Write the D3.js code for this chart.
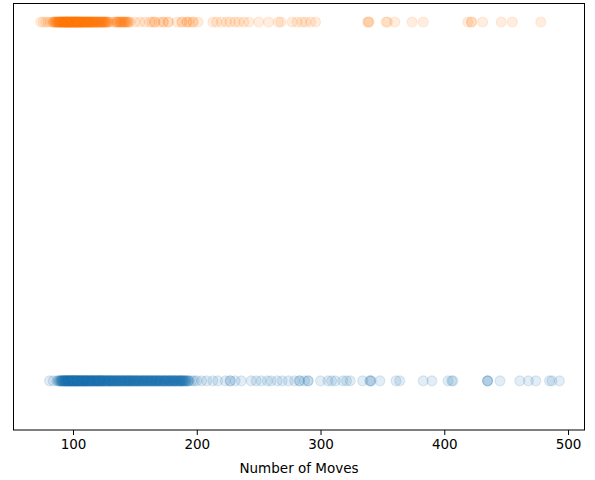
<!DOCTYPE html>
<html>
<head>
<meta charset="utf-8">
<script src="https://cdn.jsdelivr.net/npm/d3@7"></script>
<style>
  body { margin: 0; background: #fff; }
  svg { display: block; }
</style>
</head>
<body>
<div id="chart"></div>
<script>
// Number of moves per game, with how many games ended at that move count
// orange row (top)
const orangeMoves = [74, 76, 78, 80, 82, 84, 85,
  86, 87, 88, 89, 90, 91, 92, 93, 94, 95, 96, 97, 98, 99,
  100, 101, 102, 103, 104, 105, 106, 107, 108, 109, 110, 111, 112, 113, 114, 115,
  116, 117, 118, 119, 120, 121, 122, 123, 124, 125, 126, 127, 128,
  129, 131, 133, 135, 136, 137, 138, 139, 140, 141, 142, 143, 144, 145, 146,
  150, 154, 158, 162, 164, 166, 170, 173, 177, 184, 188, 192, 194, 197, 201,
  213, 216, 220, 224, 227, 231, 234, 238, 242, 250, 258, 266, 268, 277, 281,
  285, 288, 292, 296, 338, 339, 353, 354, 360, 374, 383, 419, 422, 431, 446, 455, 478];
const orangeCounts = [1, 1, 1, 1, 1, 2, 2,
  2, 3, 3, 3, 4, 4, 3, 4, 4, 5, 4, 4, 5, 4,
  5, 4, 4, 5, 4, 4, 4, 3, 4, 3, 4, 3, 3, 4, 3, 3,
  3, 3, 3, 2, 3, 3, 2, 3, 2, 3, 2, 2, 2,
  1, 1, 1, 2, 2, 1, 2, 2, 1, 2, 2, 1, 2, 1, 1,
  1, 1, 1, 1, 1, 2, 1, 2, 2, 1, 2, 2, 1, 2, 1,
  1, 1, 1, 1, 1, 1, 1, 1, 1, 1, 1, 1, 1, 1, 1,
  1, 1, 1, 1, 1, 2, 1, 1, 1, 1, 1, 1, 2, 1, 1, 1, 1];

// blue row (bottom)
const blueMoves = [81, 84, 87, 88, 89,
  90, 91, 92, 93, 94, 95, 96, 97, 98, 99,
  100, 101, 102, 103, 104, 105, 106, 107, 108, 109,
  110, 111, 112, 113, 114, 115, 116, 117, 118, 119,
  120, 121, 122, 123, 124, 125, 126, 127, 128, 129,
  130, 131, 132, 133, 134, 135, 136, 137, 138, 139,
  140, 141, 142, 143, 144, 145, 146, 147, 148, 149,
  150, 151, 152, 153, 154, 155, 156, 157, 158, 159,
  160, 161, 162, 163, 164, 165, 166, 167, 168, 169,
  170, 171, 172, 173, 174, 175, 176, 177, 178, 179,
  180, 181, 182, 183, 184, 185, 186, 187, 188, 189,
  190, 191, 192, 193, 194,
  196, 198, 200, 204, 208, 213, 217, 223, 227, 231, 236, 244, 248, 252, 257,
  260, 265, 269, 274, 279, 283, 287, 290, 300, 306, 309, 312, 318, 321, 324,
  334, 340, 341, 348, 361, 364, 383, 390, 403, 406, 407, 435, 445, 461, 468,
  474, 485, 487, 493];
const blueCounts = [1, 1, 1, 1, 2,
  2, 3, 3, 3, 4, 3, 4, 4, 3, 4,
  4, 4, 3, 4, 4, 3, 4, 3, 4, 3,
  4, 3, 3, 4, 3, 3, 4, 3, 3, 3,
  3, 4, 3, 3, 3, 3, 3, 2, 3, 3,
  3, 3, 2, 3, 3, 2, 3, 3, 2, 3,
  3, 2, 3, 2, 3, 3, 2, 3, 2, 3,
  2, 3, 2, 3, 2, 2, 3, 2, 3, 2,
  2, 3, 2, 2, 3, 2, 2, 3, 2, 2,
  3, 2, 2, 2, 3, 2, 2, 2, 3, 2,
  2, 2, 3, 2, 2, 2, 2, 3, 2, 2,
  2, 2, 1, 2, 1,
  1, 1, 1, 1, 1, 1, 1, 1, 2, 1, 1, 1, 1, 1, 1,
  1, 1, 1, 1, 1, 2, 1, 2, 1, 1, 1, 1, 1, 1, 1,
  1, 2, 1, 1, 1, 1, 1, 1, 1, 1, 1, 3, 1, 1, 1,
  1, 1, 1, 1];

const xTicks = [100, 200, 300, 400, 500];
const xLabel = "Number of Moves";

// expand (moves, count) into one point per game
function expand(moves, counts, row) {
  const pts = [];
  moves.forEach((m, i) => {
    for (let k = 0; k < counts[i]; k++) pts.push({ moves: m, row: row });
  });
  return pts;
}

const width = 595, height = 480;
const margin = { left: 13, right: 10, top: 3, bottom: 50 };

const svg = d3.select("#chart").append("svg")
  .attr("width", width)
  .attr("height", height);

const x = d3.scaleLinear()
  .domain([51.5, 513.7])
  .range([margin.left, width - margin.right]);

const y = d3.scaleLinear()
  .domain([-0.137, 1.053])
  .range([height - margin.bottom, margin.top]);

// points: blue first, then orange
const series = [
  { pts: expand(blueMoves, blueCounts, 0), color: "#1f77b4" },
  { pts: expand(orangeMoves, orangeCounts, 1), color: "#ff7f0e" }
];

series.forEach(s => {
  svg.append("g").selectAll("circle")
    .data(s.pts)
    .enter()
    .append("circle")
    .attr("cx", d => x(d.moves))
    .attr("cy", d => y(d.row))
    .attr("r", 5)
    .attr("fill", s.color)
    .attr("fill-opacity", 0.13)
    .attr("stroke", s.color)
    .attr("stroke-opacity", 0.13)
    .attr("stroke-width", 1.2);
});

// axes frame
svg.append("rect")
  .attr("x", margin.left + 0.5)
  .attr("y", margin.top + 0.5)
  .attr("width", width - margin.left - margin.right - 1)
  .attr("height", height - margin.top - margin.bottom - 0.5)
  .attr("fill", "none")
  .attr("stroke", "#000")
  .attr("stroke-width", 1);

// x axis
const xAxis = svg.append("g")
  .attr("transform", `translate(0,${height - margin.bottom})`)
  .call(d3.axisBottom(x).tickValues(xTicks).tickSize(5).tickPadding(4).tickFormat(d3.format("d")));
xAxis.select(".domain").remove();
xAxis.selectAll("line").attr("stroke", "#000").attr("stroke-width", 1);
xAxis.selectAll("text")
  .attr("font-family", "DejaVu Sans, sans-serif")
  .attr("font-size", 13.5)
  .attr("fill", "#000");

svg.append("text")
  .attr("x", (margin.left + width - margin.right) / 2)
  .attr("y", 473)
  .attr("text-anchor", "middle")
  .attr("font-family", "DejaVu Sans, sans-serif")
  .attr("font-size", 13.5)
  .attr("fill", "#000")
  .text(xLabel);
</script>
</body>
</html>
